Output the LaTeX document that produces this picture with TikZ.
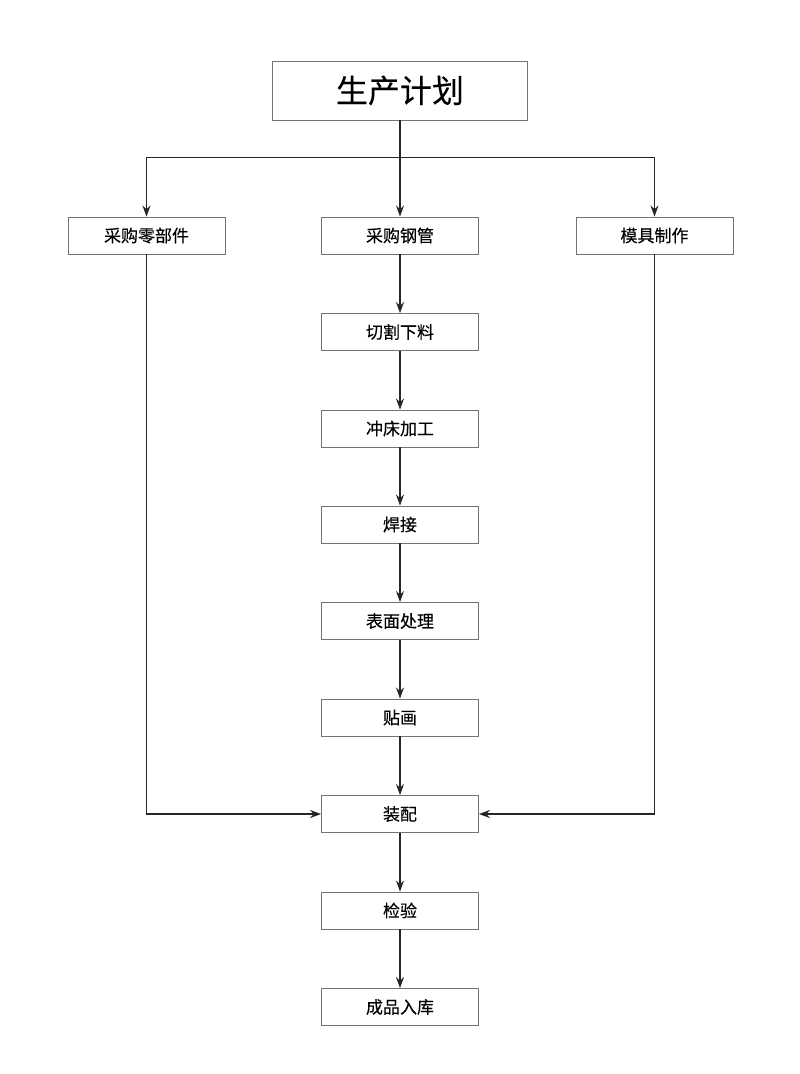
\documentclass[tikz,border=0pt]{standalone}
\usepackage{fontspec}
\setmainfont{Noto Sans CJK SC}
\newfontfamily\cjk{Noto Sans CJK SC}[FakeBold=0.15]
\usetikzlibrary{arrows.meta}
\begin{document}
\begin{tikzpicture}[x=1pt,y=-1pt,
  box/.style={draw=black!55,line width=0.9pt,minimum width=157pt,minimum height=37pt,inner sep=0pt,font=\cjk\fontsize{17}{20}\selectfont,text=black},
  bigbox/.style={draw=black!55,line width=0.9pt,minimum width=255pt,minimum height=59pt,inner sep=0pt,font=\cjk\fontsize{32}{36}\selectfont,text=black},
  conn/.style={draw=black!85,line width=1.1pt,-{Stealth[length=11pt,width=8pt]}}]
\useasboundingbox (0,0) rectangle (800,1074);
\fill[white] (0,0) rectangle (800,1074);
\node[bigbox] (plan) at (400,90.5) {生产计划};
\node[box] (parts) at (146.5,235.5) {采购零部件};
\node[box] (pipe) at (400,235.5) {采购钢管};
\node[box] (mold) at (654.5,235.5) {模具制作};
\node[box] (cut) at (400,332) {切割下料};
\node[box] (press) at (400,428.5) {冲床加工};
\node[box] (weld) at (400,524.5) {焊接};
\node[box] (surf) at (400,621) {表面处理};
\node[box] (decal) at (400,717.5) {贴画};
\node[box] (asm) at (400,814) {装配};
\node[box] (insp) at (400,910.5) {检验};
\node[box] (store) at (400,1007) {成品入库};
\coordinate (j) at (400,157.5);
\draw[line width=1.1pt,black!85] (plan.south) -- (j);
\draw[conn] (j) -| (parts.north);
\draw[conn] (j) -| (mold.north);
\draw[conn] (j) -- (pipe.north);
\draw[conn] (pipe) -- (cut);
\draw[conn] (cut) -- (press);
\draw[conn] (press) -- (weld);
\draw[conn] (weld) -- (surf);
\draw[conn] (surf) -- (decal);
\draw[conn] (decal) -- (asm);
\draw[conn] (asm) -- (insp);
\draw[conn] (insp) -- (store);
\draw[conn] (parts.south) |- (asm.west);
\draw[conn] (mold.south) |- (asm.east);
\end{tikzpicture}
\end{document}
